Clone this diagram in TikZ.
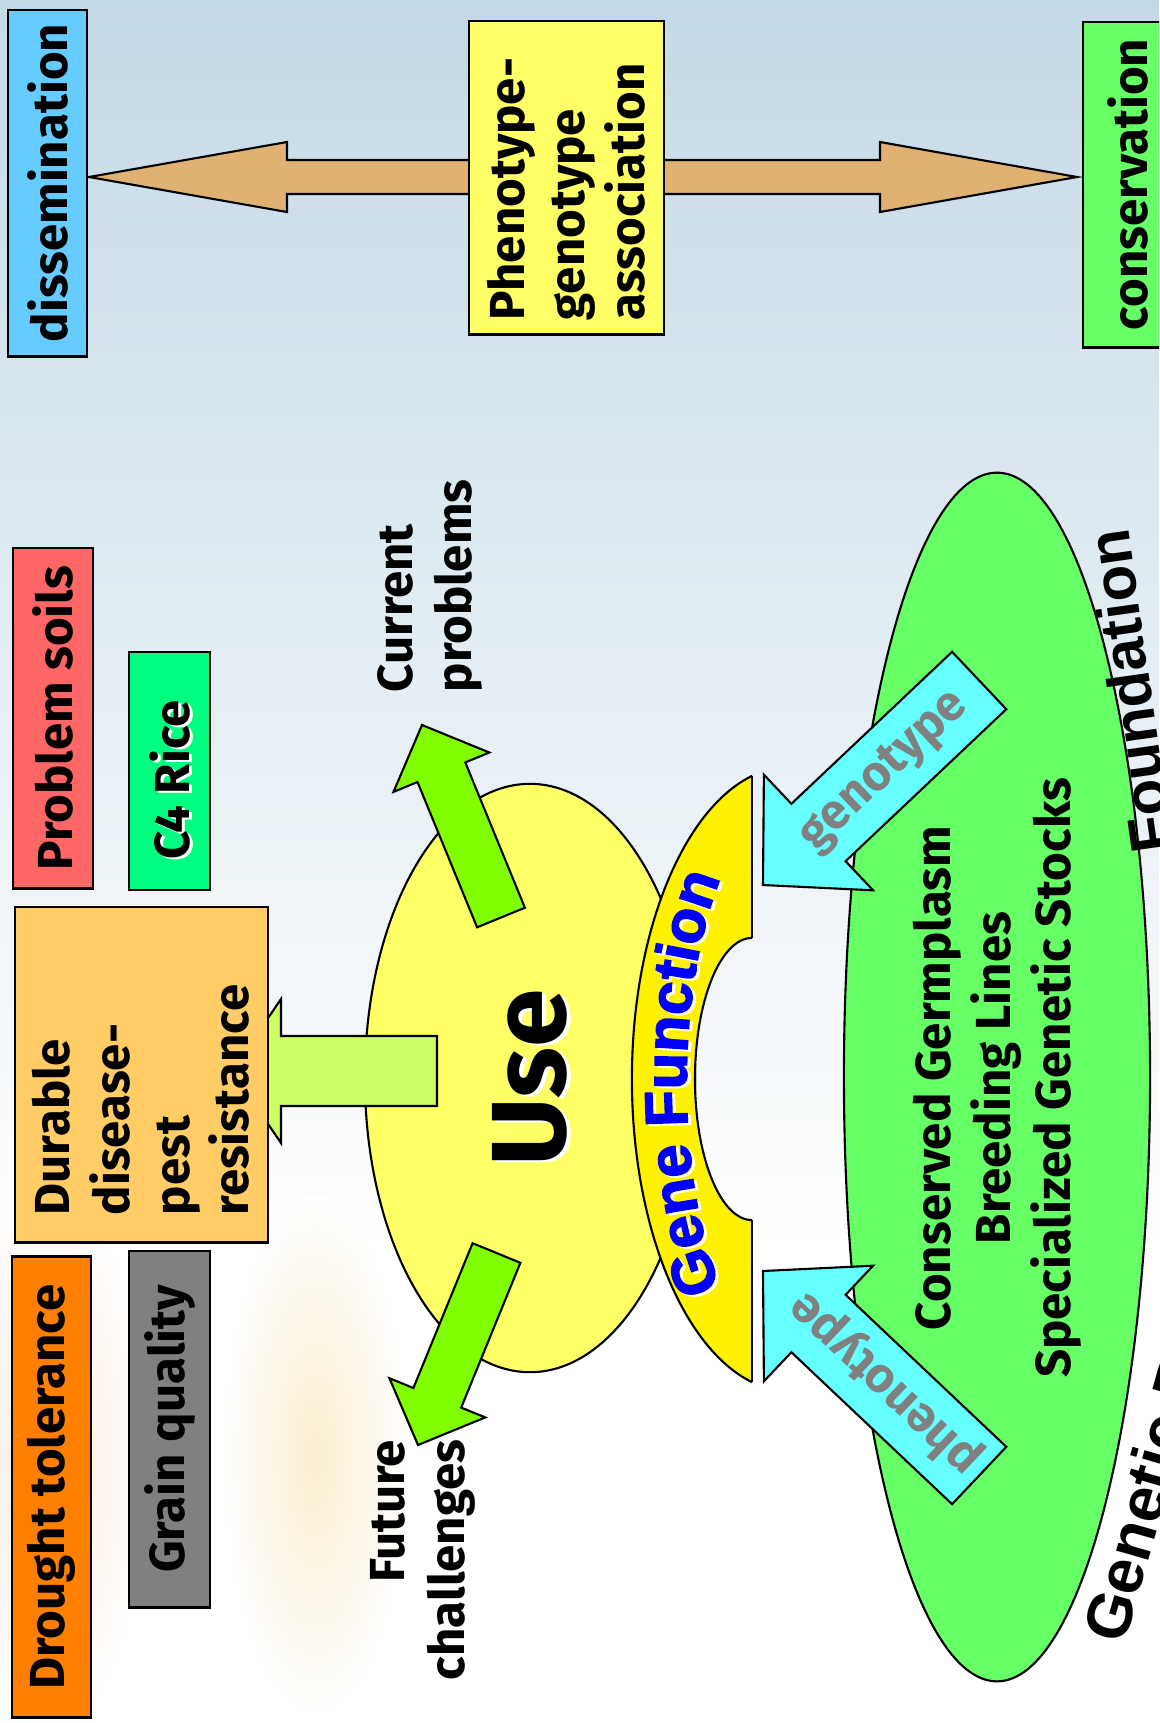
\documentclass[tikz,border=0pt]{standalone}
\usepackage{fontspec}
\setmainfont{Fira Sans}
\newfontfamily\arialfont{Liberation Sans}
\newfontfamily\blackfont{Liberation Sans Bold}[FakeBold=2.5]
\usetikzlibrary{shapes.geometric,decorations.text}
\definecolor{tanc}{HTML}{DFB272}
\definecolor{bluebox}{HTML}{66CCFF}
\definecolor{yelbox}{HTML}{FFFF66}
\definecolor{grnbox}{HTML}{66FF66}
\definecolor{redbox}{HTML}{FF6666}
\definecolor{springc}{HTML}{00FF80}
\definecolor{orgbox}{HTML}{FFCC66}
\definecolor{droughtc}{HTML}{FF8000}
\definecolor{grayc}{HTML}{808080}
\definecolor{arrg}{HTML}{80FF00}
\definecolor{paleg}{HTML}{CCFF66}
\definecolor{cyanc}{HTML}{66FFFF}
\definecolor{bgtop}{HTML}{C4D9E6}
\definecolor{cornc}{HTML}{F9EDCF}
\definecolor{orfaint}{HTML}{FCEADB}
\definecolor{gfblue}{HTML}{0000FF}
\begin{document}
\begin{tikzpicture}[x=0.01cm,y=-0.01cm,
  txt/.style={font=\bfseries\fontsize{14}{17}\selectfont, inner sep=0pt},
  boxn/.style={draw=black, line width=0.8pt, rotate=90, inner sep=0pt, txt},
  shp/.style={draw=black, line width=0.6pt},
  vtxt/.style={txt, rotate=90}]
\useasboundingbox (0,0) rectangle (1159,1723);
\clip (0,0) rectangle (1159,1723);
% background
\fill[white] (0,0) rectangle (1159,1723);
\shade[top color=bgtop, bottom color=white] (0,0) rectangle (1159,1250);
\shade[inner color=orfaint, outer color=white] (45,1460) ellipse [x radius=1.0cm, y radius=2.8cm];
\shade[inner color=cornc, outer color=white] (315,1455) ellipse [x radius=0.9cm, y radius=2.6cm];

% double arrow
\filldraw[shp, fill=tanc] (89,177) -- (287,142) -- (287,160) -- (880,160) -- (880,142)
  -- (1077,177) -- (880,212) -- (880,194) -- (287,194) -- (287,212) -- cycle;

% top boxes
\node[boxn, fill=bluebox, minimum width=3.46cm, minimum height=0.79cm] (dis) at (47.5,183) {dissemination};
\node[boxn, fill=yelbox, minimum width=3.13cm, minimum height=1.95cm] (phen) at (566.5,177.5) {};
\node[vtxt, align=left] (phent) at (566,189) {Phenotype-\\genotype\\association};
\node[boxn, fill=grnbox, minimum width=3.25cm, minimum height=0.9cm] (cons) at (1128,184.5) {conservation};

% Use ellipse
\node[shp, ellipse, fill=yelbox, minimum width=3.3cm, minimum height=5.88cm, inner sep=0pt] (use) at (530,1078) {};

% green arrows
\filldraw[shp, fill=arrg] (477.1,927.3) -- (417.5,782.0) -- (393.5,791.9) -- (422,725)
  -- (489.3,752.5) -- (465.3,762.4) -- (524.9,907.7) -- cycle;
\filldraw[shp, fill=arrg] (472.6,1243.2) -- (413.4,1388.0) -- (389.4,1378.2) -- (418,1445)
  -- (485.3,1417.4) -- (461.2,1407.6) -- (520.4,1262.8) -- cycle;
\filldraw[shp, fill=paleg] (232,1071) -- (281,999) -- (281,1036) -- (437,1036) -- (437,1106)
  -- (281,1106) -- (281,1143) -- cycle;

% left boxes
\node[boxn, fill=redbox, minimum width=3.4cm, minimum height=0.8cm] (prob) at (53,718) {Problem soils};
\node[boxn, fill=springc, minimum width=2.38cm, minimum height=0.81cm] (c4) at (169.5,771) {};
\node[vtxt, white] at (173,782) {C4 Rice};
\node[vtxt] (c4t) at (170,780) {C4 Rice};
\node[boxn, fill=orgbox, minimum width=3.35cm, minimum height=2.53cm] (dur) at (141.5,1074.5) {};
\node[vtxt, align=left] (durt) at (141,1100) {Durable\\disease-\\pest\\resistance};
\node[boxn, fill=droughtc, minimum width=4.6cm, minimum height=0.79cm] (dro) at (51.5,1487) {Drought tolerance};
\node[boxn, fill=grayc, minimum width=3.56cm, minimum height=0.81cm] (gra) at (169.5,1429) {Grain quality};

% Gene Function block arc
\begin{scope}
  \clip (0,700) rectangle (752,1450);
  \fill[yellow, even odd rule] (790,1079) ellipse [x radius=1.58cm, y radius=3.12cm]
     (752,1079) ellipse [x radius=0.57cm, y radius=1.41cm];
  \draw[line width=0.6pt] (790,1079) ellipse [x radius=1.58cm, y radius=3.12cm];
  \draw[line width=0.6pt] (752,1079) ellipse [x radius=0.57cm, y radius=1.41cm];
\end{scope}
\draw[line width=0.6pt] (752,776) -- (752,938);
\draw[line width=0.6pt] (752,1220) -- (752,1382);

% green foundation ellipse
\node[shp, ellipse, fill=grnbox, minimum width=3.06cm, minimum height=12.08cm,
  inner sep=0pt] (gr) at (997,1077) {};
\node[vtxt, align=center] (grt) at (997,1078)
  {Conserved Germplasm\\Breeding Lines\\Specialized Genetic Stocks};

% cyan arrows
\filldraw[shp, fill=cyanc] (952.1,651.8) -- (791.4,803.8) -- (763.9,774.7) -- (763,885)
  -- (873.1,890.3) -- (845.6,861.2) -- (1006.3,709.2) -- cycle;
\filldraw[shp, fill=cyanc] (952.1,1504.2) -- (791.4,1352.2) -- (763.9,1381.3) -- (763,1271)
  -- (873.1,1265.7) -- (845.6,1294.8) -- (1006.3,1446.8) -- cycle;
\node[txt, text=grayc, rotate=43.4] (geno) at (885,772) {genotype};
\node[txt, text=grayc, rotate=136.6] (pheno) at (885,1384) {phenotype};

% texts
\node[txt, white, rotate=90, font=\bfseries\fontsize{30}{34}\selectfont] at (534,1080) {Use};
\node[txt, rotate=90, font=\bfseries\fontsize{30}{34}\selectfont] (uset) at (530,1078) {Use};
\path[decorate, decoration={text along path, text align=center, text color=white,
  text={|\blackfont\fontsize{17}{20}\selectfont|Gene Function}}]
  (727,1298) .. controls (677,1183) and (677,987) .. (727,872);
\path[decorate, decoration={text along path, text align=center, text color=gfblue,
  text={|\blackfont\fontsize{17}{20}\selectfont|Gene Function}}]
  (724,1296) .. controls (674,1181) and (674,985) .. (724,870);
\node[vtxt, align=left] (cur) at (430,586) {Current\\problems};
\node[vtxt, align=right] (fut) at (423,1560) {Future\\challenges};
\node[rotate=74, anchor=base west, inner sep=0pt, font=\arialfont\bfseries\fontsize{18}{21}\selectfont] (gen) at (1124,1646) {Genetic Resources};
\node[rotate=98, anchor=base east, inner sep=0pt, font=\arialfont\bfseries\fontsize{17}{20}\selectfont] (fou) at (1128,527) {Foundation};
\end{tikzpicture}
\end{document}
